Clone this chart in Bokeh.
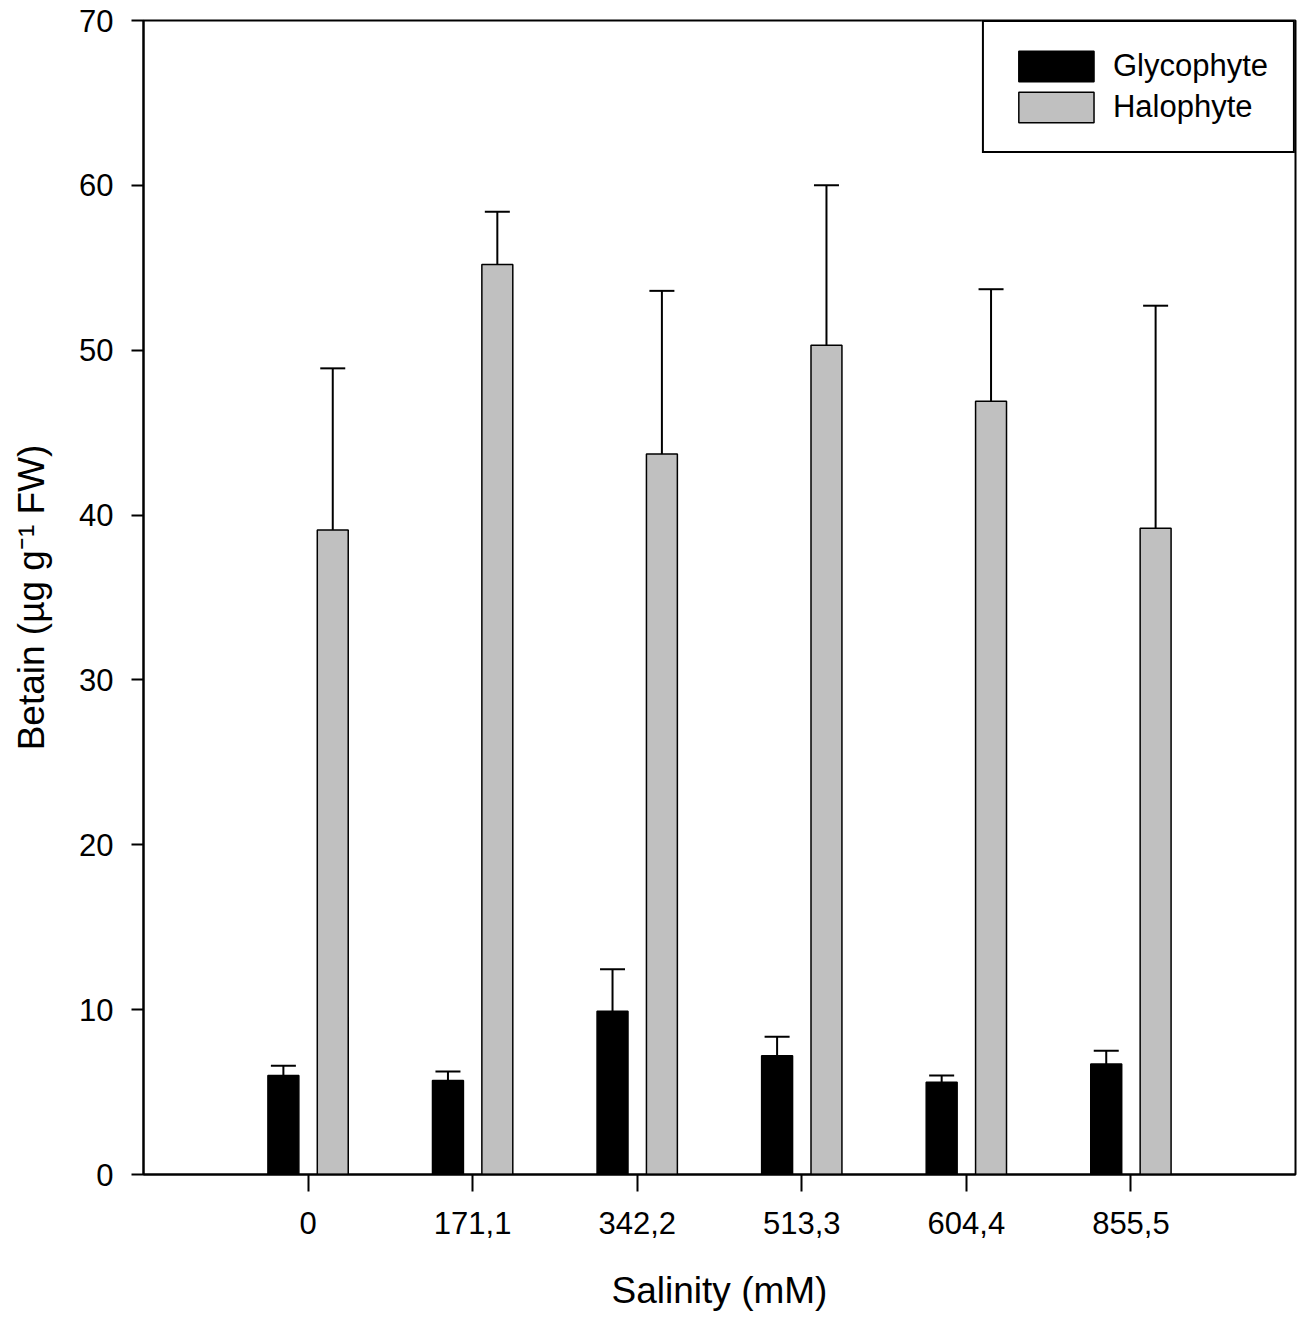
from bokeh.plotting import figure
from bokeh.models import (Range1d, FixedTicker, ColumnDataSource, Whisker, TeeHead,
                          Legend, LegendItem)
from bokeh.embed import file_html
from bokeh.resources import INLINE

# ---- data ----
categories = ["0", "171,1", "342,2", "513,3", "604,4", "855,5"]
glyco = [6.0, 5.7, 9.9, 7.2, 5.6, 6.7]
glyco_err = [0.6, 0.55, 2.55, 1.15, 0.4, 0.8]
halo = [39.1, 55.2, 43.7, 50.3, 46.9, 39.2]
halo_err = [9.8, 3.2, 9.9, 9.7, 6.8, 13.5]
y_ticks = [0, 10, 20, 30, 40, 50, 60, 70]

FONT = "Liberation Sans"
pos = [i + 1 for i in range(len(categories))]
off = 0.15
bw = 0.188

src_g = ColumnDataSource(dict(
    x=[p_ - off for p_ in pos], top=glyco,
    upper=[v + e for v, e in zip(glyco, glyco_err)]))
src_h = ColumnDataSource(dict(
    x=[p_ + off for p_ in pos], top=halo,
    upper=[v + e for v, e in zip(halo, halo_err)]))

p = figure(width=1300, height=1318, output_backend="svg", toolbar_location=None,
           x_range=Range1d(0, len(categories) + 1), y_range=Range1d(0, 70),
           min_border_left=143, min_border_right=5, min_border_top=20,
           min_border_bottom=144)
p.background_fill_color = "white"
p.border_fill_color = "white"
p.xgrid.visible = False
p.ygrid.visible = False
p.outline_line_color = "black"
p.outline_line_width = 2
p.outline_line_alpha = 1.0

rg = p.vbar(x="x", top="top", width=bw, source=src_g, fill_color="black",
            line_color="black", line_width=1.5)
rh = p.vbar(x="x", top="top", width=bw, source=src_h, fill_color="#C0C0C0",
            line_color="black", line_width=1.5)

for src in (src_g, src_h):
    w = Whisker(source=src, base="x", lower="top", upper="upper", dimension="height",
                upper_head=TeeHead(size=25, line_width=2, line_color="black"),
                lower_head=None, line_width=2, line_color="black", level="overlay")
    p.add_layout(w)

# axes
p.xaxis.ticker = FixedTicker(ticks=pos)
p.xaxis.major_label_overrides = {x: c for x, c in zip(pos, categories)}
p.yaxis.ticker = FixedTicker(ticks=y_ticks)
for ax in (p.xaxis, p.yaxis):
    ax.axis_line_width = 2
    ax.axis_line_color = "black"
    ax.major_tick_line_width = 2
    ax.major_tick_line_color = "black"
    ax.minor_tick_line_color = None
    ax.major_tick_in = 0
    ax.major_label_text_font = FONT
    ax.major_label_text_font_size = "31px"
    ax.major_label_text_color = "black"
    ax.axis_label_text_font = FONT
    ax.axis_label_text_font_size = "37px"
    ax.axis_label_text_font_style = "normal"
    ax.axis_label_text_color = "black"
p.xaxis.major_tick_out = 17
p.yaxis.major_tick_out = 12
p.xaxis.major_label_standoff = 20
p.yaxis.major_label_standoff = 18
p.xaxis.axis_label = "Salinity (mM)"
p.yaxis.axis_label = "Betain (µg g⁻¹ FW)"
p.xaxis.axis_label_standoff = 33
p.yaxis.axis_label_standoff = 24

legend = Legend(items=[LegendItem(label="Glycophyte", renderers=[rg]),
                       LegendItem(label="Halophyte", renderers=[rh])],
                location="top_right", margin=0, padding=25, spacing=3,
                glyph_width=94, glyph_height=38, label_height=38,
                label_standoff=10, label_text_font=FONT, label_text_font_size="31px",
                label_text_color="black",
                border_line_color="black", border_line_width=2, border_line_alpha=1.0,
                background_fill_color="white", background_fill_alpha=1.0)
p.add_layout(legend)

open("out.html", "w").write(file_html(p, INLINE))
